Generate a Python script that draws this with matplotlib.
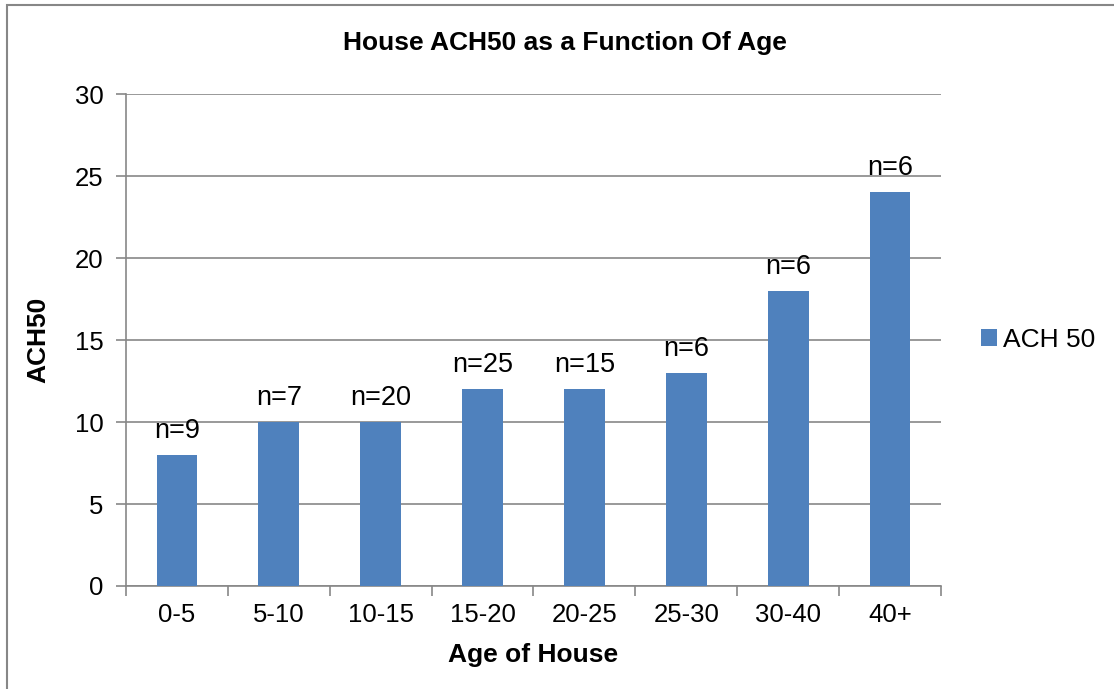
import matplotlib.pyplot as plt
from matplotlib.patches import Rectangle

age_groups = ["0-5", "5-10", "10-15", "15-20", "20-25", "25-30", "30-40", "40+"]
ach50 = [8, 10, 10, 12, 12, 13, 18, 24]
counts = ["n=9", "n=7", "n=20", "n=25", "n=15", "n=6", "n=6", "n=6"]

plt.rcParams["font.family"] = ["Liberation Sans", "DejaVu Sans"]

fig = plt.figure(figsize=(11.14, 6.89), dpi=100)
ax = fig.add_axes([0.1131, 0.1495, 0.7316, 0.714])

x = range(len(age_groups))
bars = ax.bar(x, ach50, width=0.4, color="#4F81BD", label="ACH 50", zorder=3)

for xi, val, txt in zip(x, ach50, counts):
    ax.annotate(txt, (xi, val), xytext=(0, 8), textcoords="offset points",
                ha="center", va="bottom", fontsize=19.5)

ax.set_xlim(-0.5, len(age_groups) - 0.5)
ax.set_ylim(0, 30)
ax.set_yticks(range(0, 31, 5))
ax.set_xticks(list(x))
ax.set_xticklabels(age_groups, fontsize=18.5)
ax.set_xticks([i - 0.5 for i in range(len(age_groups) + 1)], minor=True)
ax.tick_params(axis="x", which="major", length=0, pad=12)
ax.tick_params(axis="x", which="minor", length=7, color="#878787", width=1.2)
ax.tick_params(axis="y", length=7, color="#878787", width=1.2, labelsize=18.5, pad=9)

ax.grid(axis="y", color="#878787", linewidth=1.2, zorder=0)
for side in ["top", "right"]:
    ax.spines[side].set_visible(False)
for side in ["left", "bottom"]:
    ax.spines[side].set_color("#878787")
    ax.spines[side].set_linewidth(1.2)

ax.set_xlabel("Age of House", fontsize=19, fontweight="bold", labelpad=12)
ax.set_ylabel("ACH50", fontsize=19, fontweight="bold", labelpad=18)
fig.text(0.507, 0.937, "House ACH50 as a Function Of Age", ha="center", va="center",
         fontsize=19, fontweight="bold")

ax.legend(loc="center left", bbox_to_anchor=(1.02, 0.5), frameon=False,
          fontsize=19, handlelength=0.6, handleheight=0.6, handletextpad=0.25)

fig.patches.append(Rectangle((6.5 / 1114, -0.1), 1.2, 1.1 - 5.5 / 689, transform=fig.transFigure,
                             fill=False, edgecolor="#878787", linewidth=1.5))

fig.savefig("out.png", dpi=100)
